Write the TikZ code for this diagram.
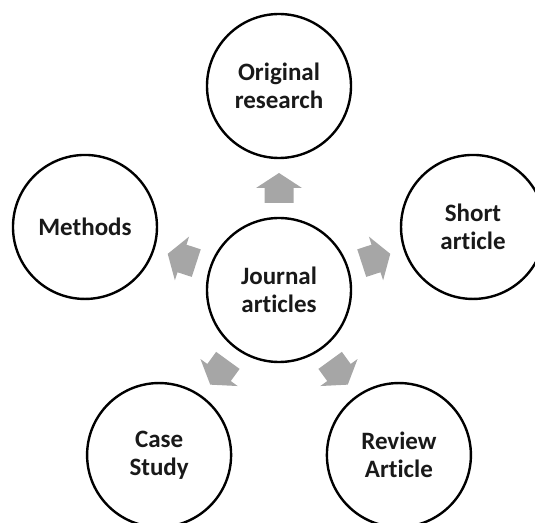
\documentclass[tikz,border=0pt]{standalone}
\usepackage{fontspec}
\setmainfont{Carlito}[Ligatures={NoCommon}]
\usetikzlibrary{calc}
\definecolor{arrowgray}{RGB}{166,166,166}
\definecolor{textdark}{RGB}{25,25,25}
\begin{document}
\begin{tikzpicture}[x=1pt,y=1pt,
  bubble/.style={circle, draw=black, line width=2.4pt, fill=white, minimum size=144pt, inner sep=0pt,
    align=center, text=textdark, font=\fontsize{25}{28}\selectfont\bfseries},
  blockarrow/.style={fill=arrowgray}]
\clip (0,0) rectangle (535,522);
\node[bubble] (c) at (279,232) {Journal\\articles};
\node[bubble] (orig) at ($(c)+(90:204)$) {Original\\research};
\node[bubble] (short) at ($(c)+(18:204)$) {Short\\article};
\node[bubble] (meth) at ($(c)+(162:204)$) {Methods};
\node[bubble] (case) at ($(c)+(234:204)$) {Case\\Study};
\node[bubble] (rev) at ($(c)+(306:204)$) {Review\\Article};
\foreach \a in {90,18,162,234,306}{
  \fill[blockarrow, shift={(c.center)}, rotate=\a-90]
    (-14.5,87) -- (14.5,87) -- (14.5,102) -- (23,102) -- (0,117) -- (-23,102) -- (-14.5,102) -- cycle;
}
\end{tikzpicture}
\end{document}
